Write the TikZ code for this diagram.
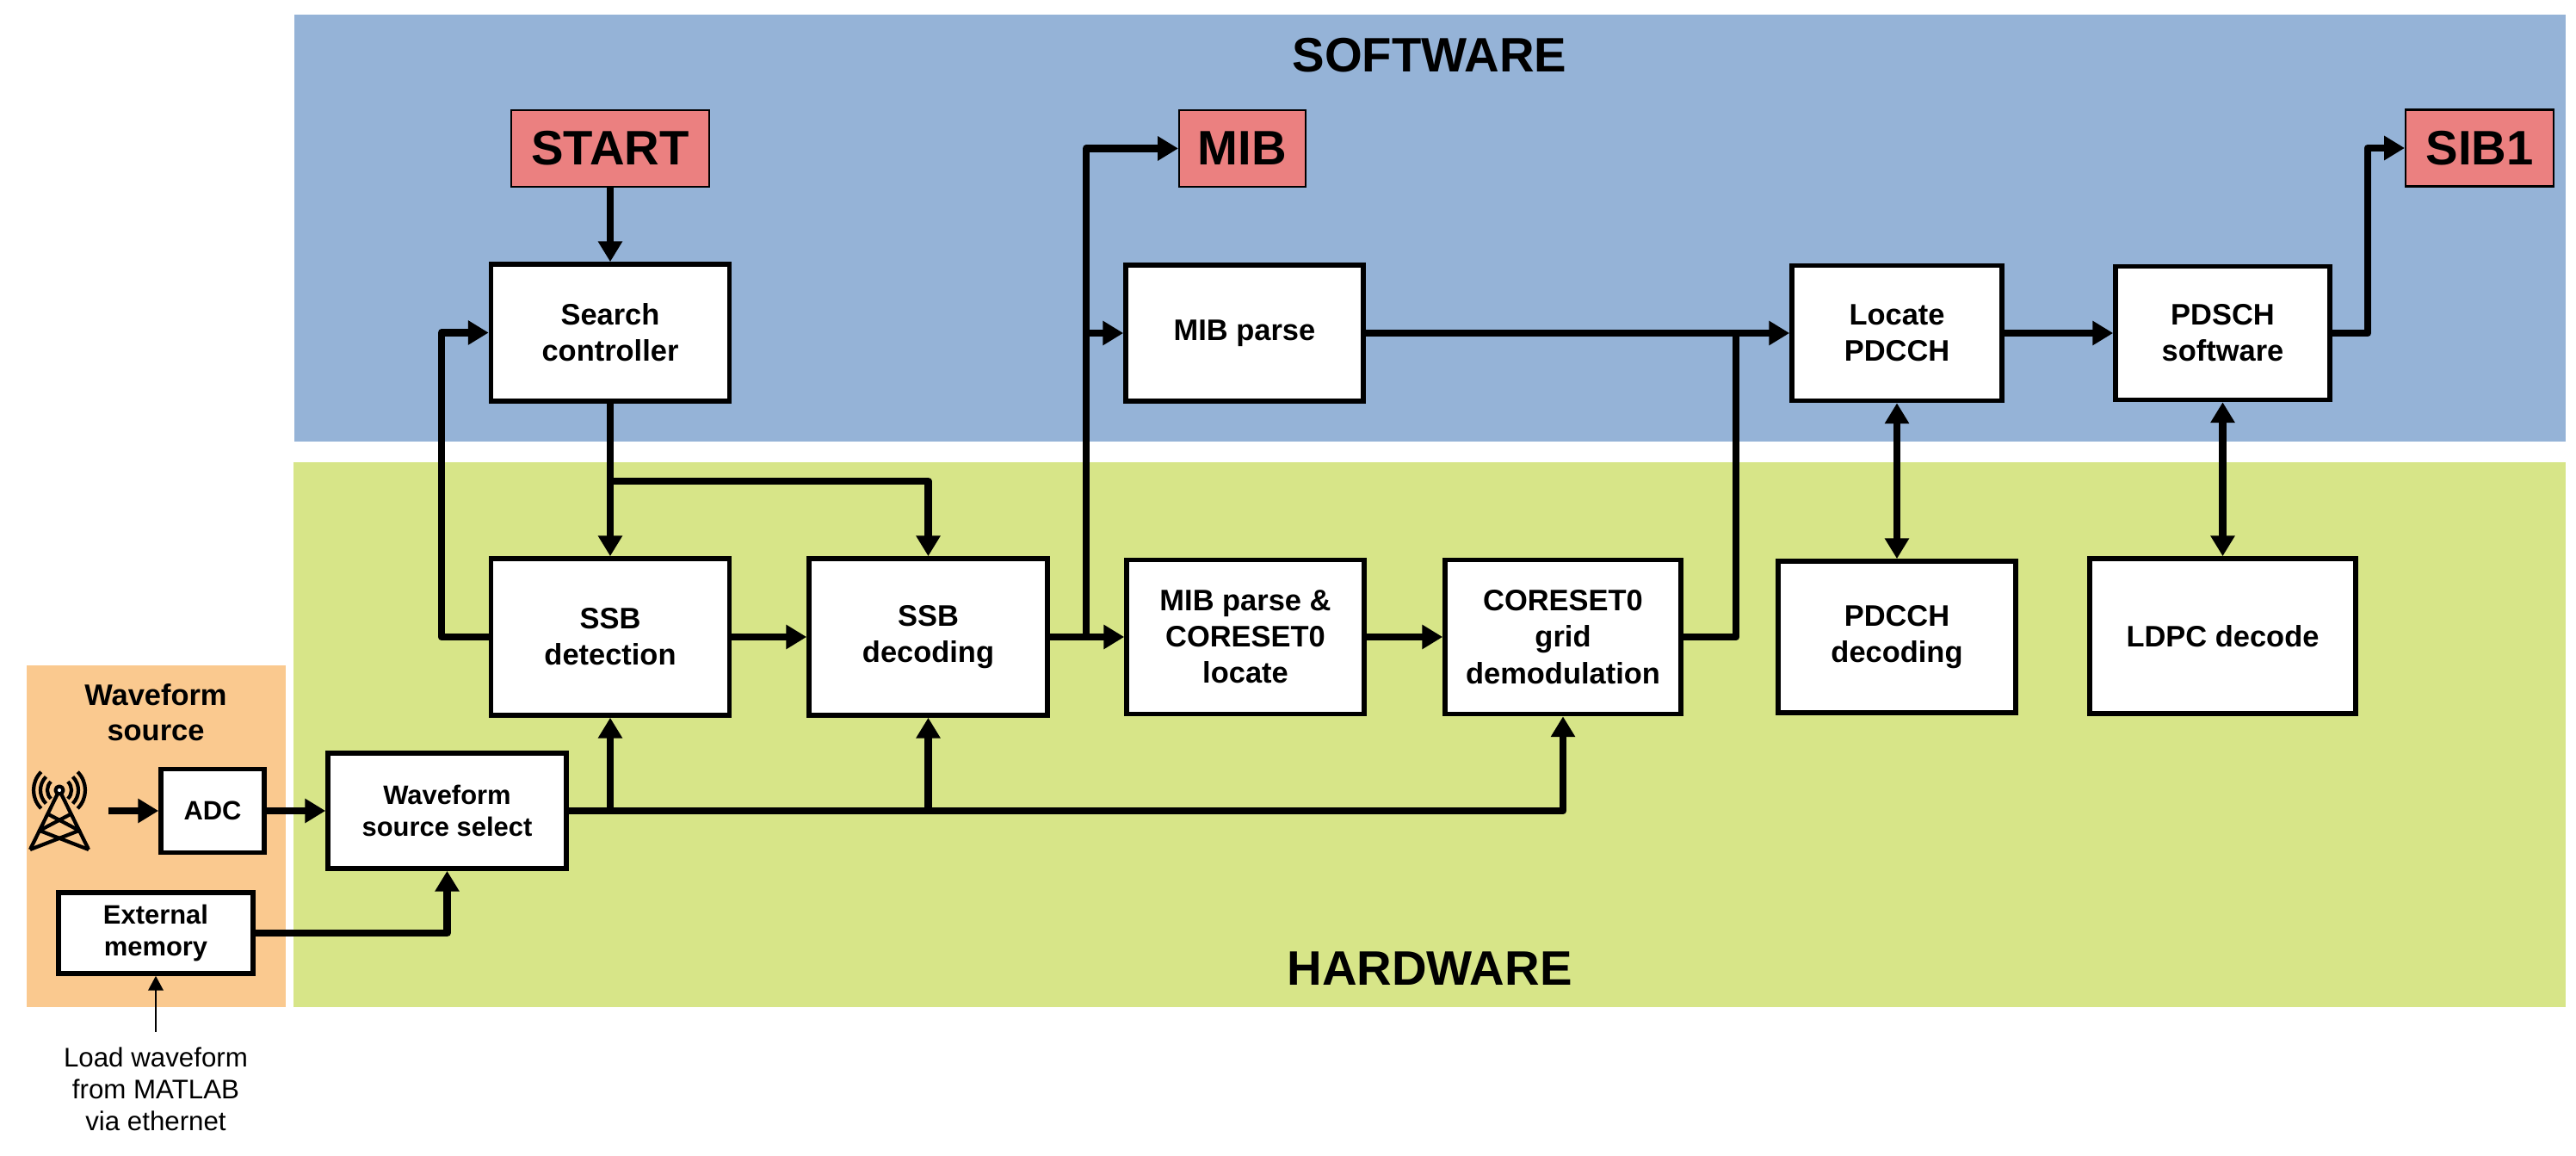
\documentclass[tikz,border=0pt]{standalone}
\usepackage{fontspec}
\setmainfont{Liberation Sans}
\usetikzlibrary{arrows.meta}
\definecolor{swblue}{RGB}{149,179,215}
\definecolor{hwgreen}{RGB}{215,229,136}
\definecolor{srcorange}{RGB}{250,201,143}
\definecolor{flagred}{RGB}{235,128,128}
\begin{document}
\begin{tikzpicture}[
    box/.style={draw,line width=1.6pt,fill=white,rectangle,align=center,inner sep=0pt,font=\fontsize{9.8}{12}\selectfont\bfseries},
    smallbox/.style={box,font=\fontsize{8.8}{10.5}\selectfont\bfseries},
    flag/.style={draw,line width=0.6pt,fill=flagred,rectangle,inner sep=0pt,font=\fontsize{16}{19}\selectfont\bfseries},
    bandtitle/.style={font=\fontsize{16}{19}\selectfont\bfseries},
    wire/.style={line width=2.4pt,line join=round},
    arr/.style={wire,-{Triangle[length=6.8pt,width=7.7pt]}},
    biarr/.style={wire,{Triangle[length=6.8pt,width=7.7pt]}-{Triangle[length=6.8pt,width=7.7pt]}},
    thinarr/.style={line width=0.5pt,-{Triangle[length=4.8pt,width=5pt]}}
]
        \useasboundingbox (0,0) rectangle (29.93,13.42);
        %% Bands
        \fill[swblue] (3.42,8.29) rectangle (29.81,13.25);
        \fill[hwgreen] (3.41,1.72) rectangle (29.81,8.05);
        \fill[srcorange] (0.31,1.72) rectangle (3.32,5.69);
        \node[bandtitle] (SW) at (16.61,12.78) {SOFTWARE};
        \node[bandtitle] (HW) at (16.61,2.17) {HARDWARE};
        \node[align=center,font=\fontsize{9.8}{11.6}\selectfont\bfseries] (SRC) at (1.81,5.14) {Waveform\\source};
        %% Antenna
        \begin{scope}[shift={(0.69,4.24)},line width=1.2pt,line join=round]
            \draw (-0.34,-0.69) -- (0,0) -- (0.34,-0.69);
            \draw (-0.136,-0.276) -- (0.231,-0.469) -- (-0.34,-0.69);
            \draw (0.136,-0.276) -- (-0.231,-0.469) -- (0.34,-0.69);
            \draw[fill=white] (0,0) circle (0.045);
            \draw ([shift={(-45:0.14)}]0,0) arc[start angle=-45,end angle=45,radius=0.14];
            \draw ([shift={(-45:0.22)}]0,0) arc[start angle=-45,end angle=45,radius=0.22];
            \draw ([shift={(-45:0.30)}]0,0) arc[start angle=-45,end angle=45,radius=0.30];
            \draw ([shift={(135:0.14)}]0,0) arc[start angle=135,end angle=225,radius=0.14];
            \draw ([shift={(135:0.22)}]0,0) arc[start angle=135,end angle=225,radius=0.22];
            \draw ([shift={(135:0.30)}]0,0) arc[start angle=135,end angle=225,radius=0.30];
        \end{scope}
        \coordinate (ANT) at (1.26,4.0);
        %% Flags
        \node[flag,minimum width=2.30cm,minimum height=0.89cm] (START) at (7.09,11.695) {START};
        \node[flag,minimum width=1.47cm,minimum height=0.89cm] (MIB) at (14.435,11.695) {MIB};
        \node[flag,minimum width=1.72cm,minimum height=0.89cm] (SIB) at (28.81,11.70) {SIB1};
        %% Software blocks
        \node[box,minimum width=2.77cm,minimum height=1.59cm] (SC) at (7.09,9.555) {Search\\controller};
        \node[box,minimum width=2.76cm,minimum height=1.58cm] (MP) at (14.46,9.55) {MIB parse};
        \node[box,minimum width=2.44cm,minimum height=1.57cm] (LP) at (22.04,9.55) {Locate\\PDCCH};
        \node[box,minimum width=2.49cm,minimum height=1.55cm] (PS) at (25.825,9.55) {PDSCH\\software};
        %% Hardware blocks
        \node[box,minimum width=2.77cm,minimum height=1.82cm] (SDT) at (7.09,6.02) {SSB\\detection};
        \node[box,minimum width=2.77cm,minimum height=1.82cm] (SDC) at (10.785,6.02) {SSB\\decoding};
        \node[box,minimum width=2.76cm,minimum height=1.79cm] (MPC) at (14.47,6.02) {MIB parse \&\\CORESET0\\locate};
        \node[box,minimum width=2.74cm,minimum height=1.79cm] (CGD) at (18.16,6.02) {CORESET0\\grid\\demodulation};
        \node[box,minimum width=2.76cm,minimum height=1.76cm] (PD) at (22.04,6.02) {PDCCH\\decoding};
        \node[box,minimum width=3.09cm,minimum height=1.80cm] (LD) at (25.825,6.03) {LDPC decode};
        %% Waveform source
        \node[smallbox,minimum width=2.77cm,minimum height=1.34cm] (WSS) at (5.195,4.0) {Waveform\\source select};
        \node[smallbox,minimum width=1.20cm,minimum height=0.97cm] (ADC) at (2.47,4.0) {ADC};
        \node[smallbox,minimum width=2.26cm,minimum height=0.94cm] (EM) at (1.81,2.58) {External\\memory};
        \node[align=center,inner sep=0pt,font=\fontsize{8.9}{10.5}\selectfont] (LOAD) at (1.81,0.77) {Load waveform\\from MATLAB\\via ethernet};
        %% Junctions
        \coordinate (J1) at (7.09,7.83);
        \coordinate (FB) at (5.13,7.83);
        \coordinate (J2) at (12.62,6.02);
        \coordinate (J3) at (20.17,9.55);
        \coordinate (J4) at (27.51,9.55);
        %% Wires
        \draw[arr] (START) -- (SC);
        \draw[arr] (SC) -- (SDT);
        \draw[arr] (J1) -| (SDC.north);
        \draw[arr] (SDT.west) -| (FB) |- (SC.west);
        \draw[arr] (SDT) -- (SDC);
        \draw[arr] (SDC) -- (MPC);
        \draw[arr] (J2) |- (MIB.west);
        \draw[arr] (J2 |- MP.west) -- (MP.west);
        \draw[arr] (MPC) -- (CGD);
        \draw[wire] (CGD.east) -| (J3);
        \draw[arr] (MP) -- (LP);
        \draw[arr] (LP) -- (PS);
        \draw[arr] (PS.east) -- (J4) |- (SIB.west);
        \draw[biarr] (LP) -- (PD);
        \draw[biarr] (PS) -- (LD);
        \draw[arr] (WSS.east) -| (CGD.south);
        \draw[arr] (SDT.south |- WSS.east) -- (SDT.south);
        \draw[arr] (SDC.south |- WSS.east) -- (SDC.south);
        \draw[arr] (ANT) -- (ADC);
        \draw[arr] (ADC) -- (WSS);
        \draw[arr] (EM.east) -| (WSS.south);
        \draw[thinarr] ([yshift=0.17cm]LOAD.north) -- (EM.south);
\end{tikzpicture}
\end{document}
